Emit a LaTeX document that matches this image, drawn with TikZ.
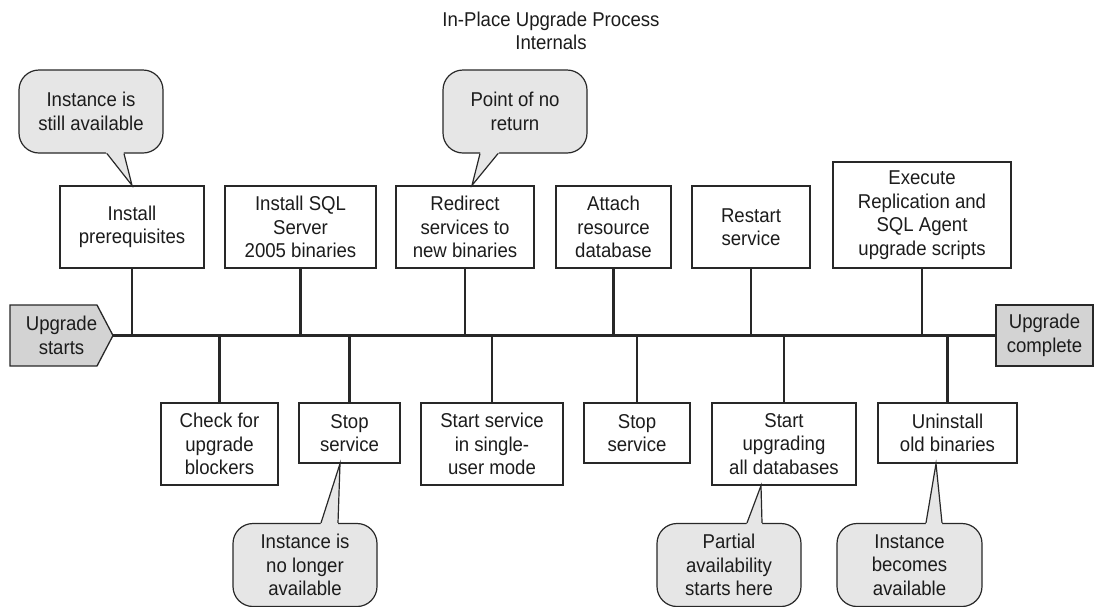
\documentclass[tikz,border=0pt]{standalone}
\usepackage{fontspec}
\setmainfont{Liberation Sans}[FakeStretch=0.93]
\usetikzlibrary{calc}
\definecolor{inkgray}{RGB}{40,40,40}
\definecolor{textgray}{RGB}{28,28,28}
\definecolor{bubblegray}{RGB}{230,230,230}
\definecolor{endgray}{RGB}{211,211,211}
\newcommand{\calltail}[3]{
\fill[bubblegray] ($(#3)!1.1!(#1)$) -- (#3) -- ($(#3)!1.1!(#2)$) -- cycle;
\draw[inkgray, line width=1.2pt, line join=miter] (#1) -- (#3) -- (#2);
}

\begin{document}
\begin{tikzpicture}[x=1pt, y=-1pt,
    every node/.style={font=\fontsize{20pt}{23.5pt}\selectfont, text=textgray, align=center, inner sep=0pt},
    stepbox/.style={draw=inkgray, line width=1.3pt, fill=white, minimum height=82pt},
    endbox/.style={draw=inkgray, line width=1.3pt, fill=endgray, minimum width=97pt, minimum height=61pt},
    callbubble/.style={draw=inkgray, line width=1.2pt, fill=bubblegray, rounded corners=20pt, minimum width=144pt, minimum height=83pt},
    stemline/.style={inkgray, line width=2.2pt}]
    \useasboundingbox (0,0) rectangle (1097,606);

    \node (title) at (551,31) {In-Place Upgrade Process\\Internals};

    % ends of the time line
    \draw[inkgray, line width=1.3pt, fill=endgray, line join=miter]
        (10,305) -- (97,305) -- (113,335.5) -- (97,366) -- (10,366) -- cycle;
    \coordinate (starttip) at (113,335.5);
    \node (start) at (61.5,335.5) {Upgrade\\starts};
    \node[endbox] (done) at (1044.5,335.5) {Upgrade\\complete};
    \draw[stemline] (starttip) -- (done.west);

    % steps above the line
    \node[stepbox, minimum width=144pt] (t1) at (132,227) {Install\\prerequisites};
    \node[stepbox, minimum width=151pt] (t2) at (300.5,227) {Install SQL\\Server\\2005 binaries};
    \node[stepbox, minimum width=138pt] (t3) at (465,227) {Redirect\\services to\\new binaries};
    \node[stepbox, minimum width=115pt] (t4) at (613.5,227) {Attach\\resource\\database};
    \node[stepbox, minimum width=118pt] (t5) at (751,227) {Restart\\service};
    \node[stepbox, minimum width=178pt, minimum height=106pt] (t6) at (922,215) {Execute\\Replication and\\SQL Agent\\upgrade scripts};

    % steps below the line
    \node[stepbox, minimum width=117pt] (b1) at (219.5,444) {Check for\\upgrade\\blockers};
    \node[stepbox, minimum width=101pt, minimum height=60pt] (b2) at (349.5,433) {Stop\\service};
    \node[stepbox, minimum width=142pt] (b3) at (492,444) {Start service\\in single-\\user mode};
    \node[stepbox, minimum width=106pt, minimum height=60pt] (b4) at (637,433) {Stop\\service};
    \node[stepbox, minimum width=144pt] (b5) at (784,444) {Start\\upgrading\\all databases};
    \node[stepbox, minimum width=139pt, minimum height=60pt] (b6) at (947.5,433) {Uninstall\\old binaries};

    \foreach \n in {t1,t2,t3,t4,t5,t6}
        \draw[stemline] (\n.south) -- (\n.south |- starttip);
    \foreach \n in {b1,b2,b3,b4,b5,b6}
        \draw[stemline] (\n.north) -- (\n.north |- starttip);

    % callouts
    \node[callbubble] (c1) at (91,111.5) {Instance is\\still available};
    \calltail{[xshift=16pt]c1.south}{[xshift=33pt]c1.south}{t1.north}
    \node[callbubble] (c2) at (515,111.5) {Point of no\\return};
    \calltail{[xshift=-35pt]c2.south}{[xshift=-17pt]c2.south}{[xshift=7pt]t3.north}
    \node[callbubble] (c3) at (305,565) {Instance is\\no longer\\available};
    \calltail{[xshift=16pt]c3.north}{[xshift=33pt]c3.north}{[xshift=-9.5pt]b2.south}
    \node[callbubble] (c4) at (729,565) {Partial\\availability\\starts here};
    \calltail{[xshift=18pt]c4.north}{[xshift=33pt]c4.north}{[xshift=-23pt]b5.south}
    \node[callbubble, minimum width=145pt] (c5) at (909.5,565) {Instance\\becomes\\available};
    \calltail{[xshift=16.5pt]c5.north}{[xshift=32.5pt]c5.north}{[xshift=-11.5pt]b6.south}
\end{tikzpicture}
\end{document}
